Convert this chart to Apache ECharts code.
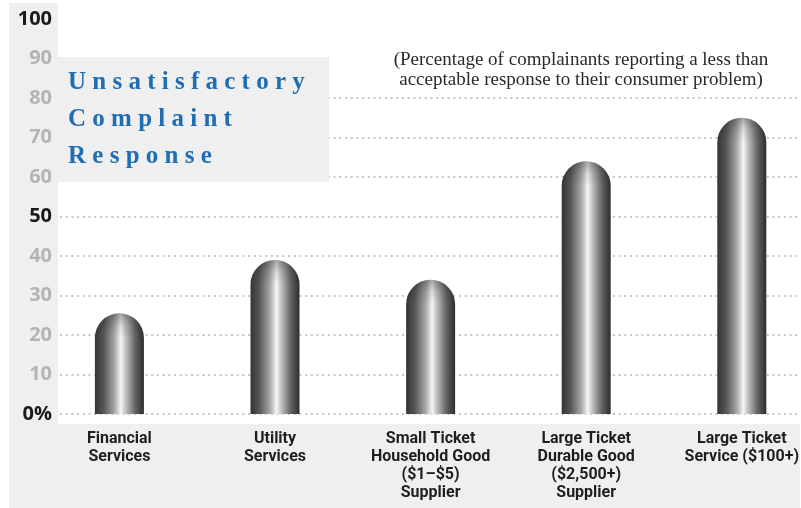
<!DOCTYPE html>
<html>
<head>
<meta charset="utf-8">
<script src="https://cdn.jsdelivr.net/npm/echarts@6/dist/echarts.min.js"></script>
<style>html,body{margin:0;padding:0;background:#fff;}#c{width:801px;height:508px;}</style>
</head>
<body>
<div id="c"></div>
<script>
// ---- data ----
const categories = [
  'Financial\nServices',
  'Utility\nServices',
  'Small Ticket\nHousehold Good\n($1–$5)\nSupplier',
  'Large Ticket\nDurable Good\n($2,500+)\nSupplier',
  'Large Ticket\nService ($100+)'
];
const values = [25.5, 39, 34, 64, 75];
const yTicks = [0, 10, 20, 30, 40, 50, 60, 70, 80, 90, 100];
const yTickLabels = ['0%', '10', '20', '30', '40', '50', '60', '70', '80', '90', '100'];
const yStrongTicks = [0, 50, 100];
const titleLines = ['U n s a t i s f a c t o r y', 'C o m p l a i n t', 'R e s p o n s e'];
const subtitleLines = ['(Percentage of complainants reporting a less than', 'acceptable response to their consumer problem)'];

// ---- chart ----
const chart = echarts.init(document.getElementById('c'), null, {renderer: 'canvas'});
const GRAY_BG = '#efefef';
const gridTop = 19, gridBottom = 94;

function renderBar(params, api) {
  const base = api.coord([api.value(0), 0]);
  const top = api.coord([api.value(0), api.value(1)]);
  const w = 49, r = w / 2;
  const cx = base[0];
  const x0 = cx - r;
  const hGrad = new echarts.graphic.LinearGradient(x0, 0, x0 + w, 0, [
    {offset: 0, color: '#343434'},
    {offset: 0.18, color: '#565656'},
    {offset: 0.40, color: '#a8a8a8'},
    {offset: 0.53, color: '#f6f6f6'},
    {offset: 0.62, color: '#c4c4c4'},
    {offset: 0.82, color: '#646464'},
    {offset: 1, color: '#2c2c2c'}
  ], true);
  const vGrad = new echarts.graphic.LinearGradient(0, top[1], 0, top[1] + r, [
    {offset: 0, color: 'rgba(0,0,0,0.32)'},
    {offset: 0.5, color: 'rgba(0,0,0,0.10)'},
    {offset: 1, color: 'rgba(0,0,0,0)'}
  ], true);
  return {
    type: 'group',
    children: [
      {type: 'rect', shape: {x: x0, y: top[1], width: w, height: base[1] - top[1], r: [r, r, 0, 0]}, style: {fill: hGrad}},
      {type: 'rect', shape: {x: x0, y: top[1], width: w, height: r + 1, r: [r, r, 0, 0]}, style: {fill: vGrad}}
    ]
  };
}

const splitColors = yTicks.map(t => t <= 80 ? '#c6c6c6' : 'rgba(0,0,0,0)');
const labelFont = 'Roboto, "Noto Sans", sans-serif';

const option = {
  animation: false,
  backgroundColor: '#ffffff',
  grid: [
    {left: 60, right: 0, top: gridTop, bottom: gridBottom, outerBoundsMode: 'none'},
    {left: 119.4, right: 59.2, top: gridTop, bottom: gridBottom, outerBoundsMode: 'none'}
  ],
  graphic: [
    {type: 'rect', z: -10, shape: {x: 9, y: 3, width: 49, height: 505}, style: {fill: GRAY_BG}},
    {type: 'rect', z: -10, shape: {x: 9, y: 424, width: 791, height: 84}, style: {fill: GRAY_BG}},
    {type: 'rect', z: 50, shape: {x: 58, y: 57, width: 271, height: 125}, style: {fill: GRAY_BG}},
    {type: 'text', z: 51, x: 68, y: 64, style: {
      text: titleLines.join('\n'), fill: '#1f6db3',
      font: 'bold 25px "Liberation Serif", "DejaVu Serif", serif', lineHeight: 37,
      textAlign: 'left', textVerticalAlign: 'top'}},
    {type: 'text', z: 51, x: 581, y: 50, style: {
      text: subtitleLines.join('\n'), fill: '#2a2a2a',
      font: '19px "Liberation Serif", "DejaVu Serif", serif', lineHeight: 20,
      textAlign: 'center', textVerticalAlign: 'top'}}
  ],
  xAxis: [
    {type: 'category', gridIndex: 0, data: categories, show: false},
    {type: 'category', gridIndex: 1, data: categories, boundaryGap: false,
      axisLine: {show: false}, axisTick: {show: false},
      axisLabel: {interval: 0, margin: 16, color: '#1e1e1e', fontSize: 16, lineHeight: 18,
        fontWeight: 'bold', fontFamily: labelFont}}
  ],
  yAxis: [
    {type: 'value', gridIndex: 0, min: 0, max: 100, interval: 10,
      axisLine: {show: false}, axisTick: {show: false},
      splitLine: {show: true, lineStyle: {color: splitColors, width: 2, type: [2, 3.7]}},
      axisLabel: {margin: 8, formatter: function (v) {
          const i = yTicks.indexOf(v);
          const lbl = yTickLabels[i];
          return yStrongTicks.indexOf(v) >= 0 ? '{k|' + lbl + '}' : '{g|' + lbl + '}';
        },
        rich: {
          k: {color: '#1a1a1a', fontSize: 20, fontWeight: 'bold', fontFamily: '"Open Sans", "Noto Sans", sans-serif'},
          g: {color: '#b4b4b4', fontSize: 20, fontWeight: 'bold', fontFamily: '"Open Sans", "Noto Sans", sans-serif'}
        }}},
    {type: 'value', gridIndex: 1, min: 0, max: 100, interval: 10, show: false, splitLine: {show: false}}
  ],
  series: [{
    type: 'custom', xAxisIndex: 1, yAxisIndex: 1,
    renderItem: renderBar,
    data: values.map((v, i) => [i, v]),
    clip: false,
    z: 5
  }]
};
chart.setOption(option);
</script>
</body>
</html>
